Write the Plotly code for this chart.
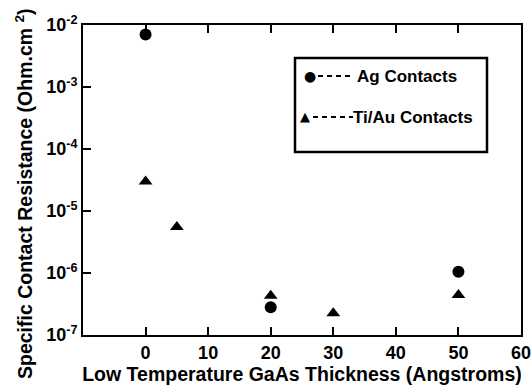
import plotly.graph_objects as go

# Data
ag_x = [0, 20, 50]
ag_y = [7.0e-3, 2.8e-7, 1.05e-6]
ti_x = [0, 5, 20, 30, 50]
ti_y = [3.0e-5, 5.5e-6, 4.3e-7, 2.25e-7, 4.4e-7]

y_tickvals = [1e-2, 1e-3, 1e-4, 1e-5, 1e-6, 1e-7]
y_ticktext = ["<b>10<sup>-2</sup></b>", "<b>10<sup>-3</sup></b>", "<b>10<sup>-4</sup></b>",
              "<b>10<sup>-5</sup></b>", "<b>10<sup>-6</sup></b>", "<b>10<sup>-7</sup></b>"]
x_tickvals = [0, 10, 20, 30, 40, 50, 60]
x_ticktext = ["<b>0</b>", "<b>10</b>", "<b>20</b>", "<b>30</b>", "<b>40</b>", "<b>50</b>", "<b>60</b>"]
legend_labels = ["Ag Contacts", "Ti/Au Contacts"]
x_title = "Low Temperature GaAs Thickness (Angstroms)"
y_title = "Specific Contact Resistance (Ohm.cm <sup>2</sup>)"

FONT = "Liberation Sans, Arial, sans-serif"
L, R, T, B = 83, 11, 25, 50
PW, PH = 532 - L - R, 385 - T - B


def px(x):
    return (x - L) / PW


def py(y):
    return (385 - B - y) / PH


fig = go.Figure()
fig.add_trace(go.Scatter(x=ag_x, y=ag_y, mode="markers", showlegend=False,
                         marker=dict(symbol="circle", size=12, color="black")))
fig.add_trace(go.Scatter(x=ti_x, y=ti_y, mode="markers", showlegend=False,
                         marker=dict(symbol="triangle-up", size=12, color="black")))

fig.update_layout(
    width=532, height=385,
    margin=dict(l=L, r=R, t=T, b=B, autoexpand=False),
    paper_bgcolor="white", plot_bgcolor="white",
    font=dict(family=FONT, color="black", size=14),
    xaxis=dict(range=[-10, 60], tickvals=x_tickvals, ticktext=x_ticktext, ticks="inside",
               ticklen=8, tickwidth=1.5, tickcolor="black", mirror="ticks", showline=True,
               linecolor="black", linewidth=2, showgrid=False, zeroline=False,
               automargin=False,
               tickfont=dict(size=18, family=FONT),
               title=dict(text="<b>" + x_title + "</b>",
                          font=dict(size=19.5, family=FONT), standoff=2)),
    yaxis=dict(type="log", range=[-7, -2], tickvals=y_tickvals, ticktext=y_ticktext,
               ticks="inside", ticklen=8, tickwidth=1.5, tickcolor="black", mirror=True,
               showline=True, linecolor="black", linewidth=2, showgrid=False, zeroline=False,
               automargin=False,
               tickfont=dict(size=18, family=FONT)),
)

# Y axis title (placed like the reference, a little below the plot centre)
fig.add_annotation(xref="paper", yref="paper", x=px(24), y=py(194),
                   xanchor="center", yanchor="middle", textangle=-90,
                   text="<b>" + y_title + "</b>", showarrow=False,
                   font=dict(size=19.5, family=FONT))

# Legend box
fig.add_shape(type="rect", xref="paper", yref="paper",
              x0=px(295), x1=px(487), y0=py(152), y1=py(58),
              line=dict(color="black", width=2.5), fillcolor="white")
# Ag row
fig.add_annotation(xref="paper", yref="paper", x=px(310), y=py(76), text="●",
                   xanchor="center", yanchor="middle",
                   showarrow=False, font=dict(size=14, family="DejaVu Sans"))
fig.add_shape(type="line", xref="paper", yref="paper", x0=px(318), x1=px(352),
              y0=py(76), y1=py(76), line=dict(color="black", width=2, dash="5px,4px"))
fig.add_annotation(xref="paper", yref="paper", x=px(355), y=py(76),
                   text="<b>" + legend_labels[0] + "</b>", showarrow=False,
                   xanchor="left", yanchor="middle",
                   font=dict(size=17, family=FONT))
# Ti/Au row
fig.add_annotation(xref="paper", yref="paper", x=px(305), y=py(116), text="▲",
                   xanchor="center", yanchor="middle",
                   showarrow=False, font=dict(size=13, family="DejaVu Sans"))
fig.add_shape(type="line", xref="paper", yref="paper", x0=px(313), x1=px(353),
              y0=py(117), y1=py(117), line=dict(color="black", width=2, dash="5px,4px"))
fig.add_annotation(xref="paper", yref="paper", x=px(351), y=py(117),
                   text="<b>" + legend_labels[1] + "</b>", showarrow=False,
                   xanchor="left", yanchor="middle",
                   font=dict(size=17, family=FONT))

fig.write_html("out.html")
